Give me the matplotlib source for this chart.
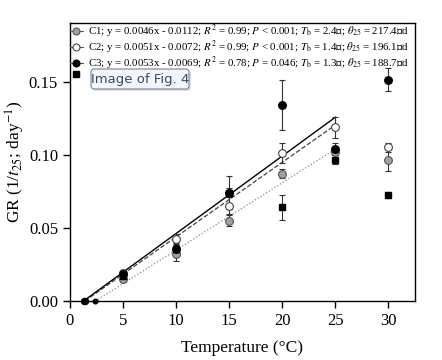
import matplotlib
matplotlib.use("Agg")
import matplotlib.pyplot as plt
from matplotlib.patches import FancyBboxPatch
from matplotlib.lines import Line2D
import numpy as np

plt.rcParams['font.family'] = ['Liberation Serif', 'DejaVu Serif', 'DejaVu Sans', 'Noto Sans CJK SC']
plt.rcParams['mathtext.fontset'] = 'stix'

# ---- data ----
temps = [5, 10, 15, 20, 25, 30]
c1_gr = [0.0152, 0.0320, 0.0550, 0.0870, 0.1020, 0.0966]
c1_err = [0.0020, 0.0050, 0.0040, 0.0030, 0.0040, 0.0080]
c2_gr = [0.0190, 0.0427, 0.0652, 0.1013, 0.1186, 0.1050]
c2_err = [0.0020, 0.0030, 0.0060, 0.0070, 0.0075, 0.0030]
c3_gr = [0.0182, 0.0352, 0.0741, 0.1338, 0.1040, 0.1513]
c3_err = [0.0020, 0.0040, 0.0110, 0.0170, 0.0040, 0.0080]
c4_gr = [0.0170, 0.0355, 0.0741, 0.0639, 0.0966, 0.0725]
c4_err = [0.0020, 0.0030, 0.0030, 0.0088, 0.0030, 0.0020]

tb = [2.4, 1.4, 1.3]
slopes = [0.0046, 0.0051, 0.0053]
intercepts = [-0.0112, -0.0072, -0.0069]
labels = [
    r"C1; y = 0.0046x - 0.0112; $R^2$ = 0.99; $P$ < 0.001; $T_\mathrm{b}$ = 2.4℃; $\theta_{25}$ = 217.4℃d",
    r"C2; y = 0.0051x - 0.0072; $R^2$ = 0.99; $P$ < 0.001; $T_\mathrm{b}$ = 1.4℃; $\theta_{25}$ = 196.1℃d",
    r"C3; y = 0.0053x - 0.0069; $R^2$ = 0.78; $P$ = 0.046; $T_\mathrm{b}$ = 1.3℃; $\theta_{25}$ = 188.7℃d",
]

fig = plt.figure(figsize=(4.42, 3.6), dpi=100)
ax = fig.add_axes([0.158, 0.164, 0.781, 0.772])

line_styles = [dict(color='#888888', ls=':', lw=0.9),
               dict(color='#444444', ls='--', lw=0.9),
               dict(color='black', ls='-', lw=1.0)]
marker_styles = [dict(marker='o', mfc='#a0a0a0', mec='#555555'),
                 dict(marker='o', mfc='white', mec='#444444'),
                 dict(marker='o', mfc='black', mec='black')]

# regression lines
for s, b, t0, st in zip(slopes, intercepts, tb, line_styles):
    xs = np.array([t0, 25])
    ax.plot(xs, s * xs + b, **st, zorder=2)

# data points
series = [(c1_gr, c1_err), (c2_gr, c2_err), (c3_gr, c3_err)]
for (gr, err), ms in zip(series, marker_styles):
    ax.errorbar(temps, gr, yerr=err, fmt='none', ecolor='#333333', elinewidth=0.8,
                capsize=2.2, capthick=0.8, zorder=3)
    ax.plot(temps, gr, ls='none', ms=5.6, mew=0.8, zorder=4, **ms)
ax.errorbar(temps, c4_gr, yerr=c4_err, fmt='none', ecolor='#333333', elinewidth=0.8,
            capsize=2.2, capthick=0.8, zorder=3)
ax.plot(temps, c4_gr, ls='none', marker='s', ms=4.6, mfc='black', mec='black', zorder=4)

# base temperature points
ax.plot(tb[1:], [0, 0], ls='none', marker='o', ms=4.3, mfc='black', mec='black', zorder=5,
        clip_on=False)
ax.plot(tb[:1], [0], ls='none', marker='o', ms=3.3, mfc='black', mec='black', zorder=5,
        clip_on=False)

ax.set_xlim(0, 32.5)
ax.set_ylim(0, 0.19)
ax.set_xticks([0, 5, 10, 15, 20, 25, 30])
ax.set_yticks([0.0, 0.05, 0.10, 0.15])
ax.set_yticklabels(['0.00', '0.05', '0.10', '0.15'])
ax.tick_params(direction='out', length=5, width=1, labelsize=12)
for sp in ax.spines.values():
    sp.set_linewidth(1.0)
ax.set_xlabel('Temperature (°C)', fontsize=12.5, labelpad=8)
ax.set_ylabel(r'GR (1/$t_{25}$; day$^{-1}$)', fontsize=12.5)
ax.yaxis.set_label_coords(-0.125, 0.5)

handles = []
for st, ms in zip(line_styles, marker_styles):
    handles.append(Line2D([], [], color='#555555', lw=0.8, ms=5.0, mew=0.8,
                          marker=ms['marker'], mfc=ms['mfc'], mec=ms['mec']))
handles.append(Line2D([], [], ls='none', marker='s', ms=4.8, mfc='black', mec='black'))
leg = ax.legend(handles, labels + [' '], loc='upper left', bbox_to_anchor=(0.0, 1.0),
                frameon=False, fontsize=7.8, handlelength=1.2, handletextpad=0.45,
                labelspacing=-0.12, borderaxespad=0.0, borderpad=0.0)

# tooltip overlay
tip = FancyBboxPatch((91, 271), 98, 20, boxstyle='round,pad=0,rounding_size=3',
                     transform=None, fc='#f2f5fb', ec='#8090a8', lw=0.9, zorder=10)
shadow = FancyBboxPatch((93, 269), 98, 20, boxstyle='round,pad=0,rounding_size=3',
                        transform=None, fc='#c8c8c8', ec='none', lw=0, zorder=9, alpha=0.6)
fig.patches.extend([shadow, tip])
fig.text(140 / 442, 281 / 360, 'Image of Fig. 4', family='DejaVu Sans', fontsize=9.5,
         color='#3a4a60', ha='center', va='center', zorder=11)

fig.savefig('out.png', dpi=100)
